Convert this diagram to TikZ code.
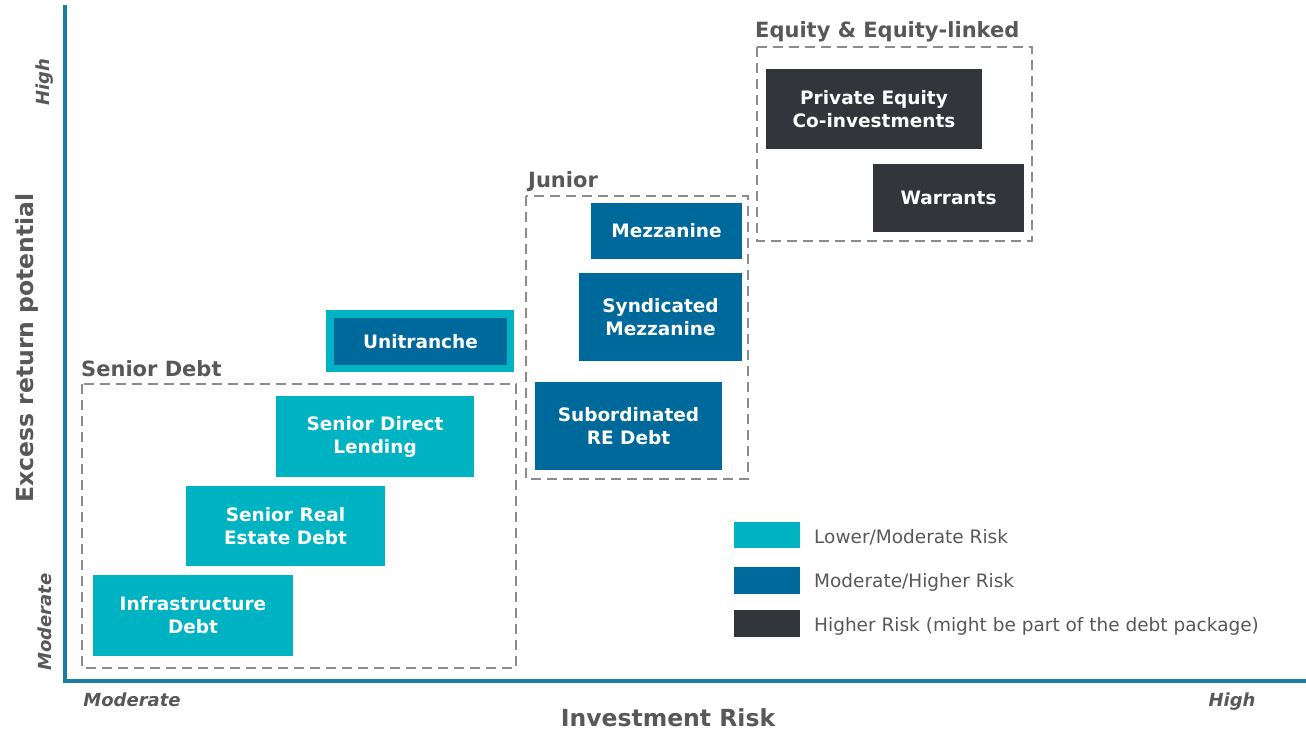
\documentclass[tikz,border=0pt]{standalone}
\usepackage{fontspec}
\setmainfont{DejaVu Sans}
\definecolor{lowrisk}{HTML}{00B3C3}
\definecolor{midrisk}{HTML}{00699B}
\definecolor{highrisk}{HTML}{323539}
\definecolor{axisblue}{HTML}{1B7DA2}
\definecolor{txtgray}{HTML}{585858}
\definecolor{dashgray}{HTML}{8C8C8C}
\tikzset{
  boxtext/.style={text=white, align=center, inner sep=0pt, font=\bfseries\fontsize{18.5}{23}\selectfont},
  groupframe/.style={draw=dashgray, line width=2.2pt, dash pattern=on 10pt off 6pt},
  grouplabel/.style={anchor=base west, text=txtgray, inner sep=0pt, font=\bfseries\fontsize{21}{24}\selectfont},
  axistitle/.style={text=txtgray, inner sep=0pt, font=\bfseries\fontsize{23.5}{27}\selectfont},
  axisend/.style={text=txtgray, inner sep=0pt, font=\bfseries\itshape\fontsize{18}{21}\selectfont},
  legendtext/.style={anchor=west, text=txtgray, inner sep=0pt, font=\fontsize{18.5}{21}\selectfont}
}
\begin{document}
\begin{tikzpicture}[x=1pt, y=-1pt]
\useasboundingbox (0,0) rectangle (1306,733);
% axes
\coordinate (top) at (65,5);
\coordinate (origin) at (65,681);
\coordinate (right) at (1306,681);
\draw [axisblue, line width=3.5pt] (top) -- (origin) -- (right);
\node [axistitle, rotate=90] (ylabel) at (27,348) {Excess return potential};
\node [axistitle] (xlabel) at (668,718) {Investment Risk};
\node [axisend, rotate=90] (yhigh) at (45,82) {High};
\node [axisend, rotate=90] (ymod) at (45,622) {Moderate};
\node [axisend] (xmod) at (132,700) {Moderate};
\node [axisend] (xhigh) at (1232,702) {High};
% senior debt
\draw [groupframe] (82,384) rectangle (516,668);
\node [grouplabel] (seniorlbl) at (81,376) {Senior Debt};
\fill [lowrisk] (93,575) rectangle node [boxtext] (infra) {Infrastructure\\Debt} (293,656);
\fill [lowrisk] (186,486) rectangle node [boxtext] (realestate) {Senior Real\\Estate Debt} (385,566);
\fill [lowrisk] (276,396) rectangle node [boxtext] (directlend) {Senior Direct\\Lending} (474,477);
% unitranche
\fill [lowrisk] (326,310) rectangle (514,372);
\fill [midrisk] (334,318) rectangle node [boxtext] (unitranche) {Unitranche} (507,365);
% junior
\draw [groupframe] (526,196) rectangle (748,479);
\node [grouplabel] (juniorlbl) at (528,187) {Junior};
\fill [midrisk] (591,203) rectangle node [boxtext] (mezz) {Mezzanine} (742,259);
\fill [midrisk] (579,273) rectangle node [boxtext] (syndmezz) {Syndicated\\Mezzanine} (742,361);
\fill [midrisk] (535,382) rectangle node [boxtext] (subre) {Subordinated\\RE Debt} (722,470);
% equity
\draw [groupframe] (757,47) rectangle (1032,241);
\node [grouplabel] (equitylbl) at (755,38) {Equity \& Equity-linked};
\fill [highrisk] (766,69) rectangle node [boxtext] (privequity) {Private Equity\\Co-investments} (982,149);
\fill [highrisk] (873,164) rectangle node [boxtext] (warrants) {Warrants} (1024,232);
% legend
\fill [lowrisk] (734,522) rectangle (800,548);
\fill [midrisk] (734,567) rectangle (800,594);
\fill [highrisk] (734,610) rectangle (800,637);
\node [legendtext] (leglow) at (814,537) {Lower/Moderate Risk};
\node [legendtext] (legmid) at (814,582) {Moderate/Higher Risk};
\node [legendtext] (leghigh) at (814,626) {Higher Risk (might be part of the debt package)};
\end{tikzpicture}
\end{document}
